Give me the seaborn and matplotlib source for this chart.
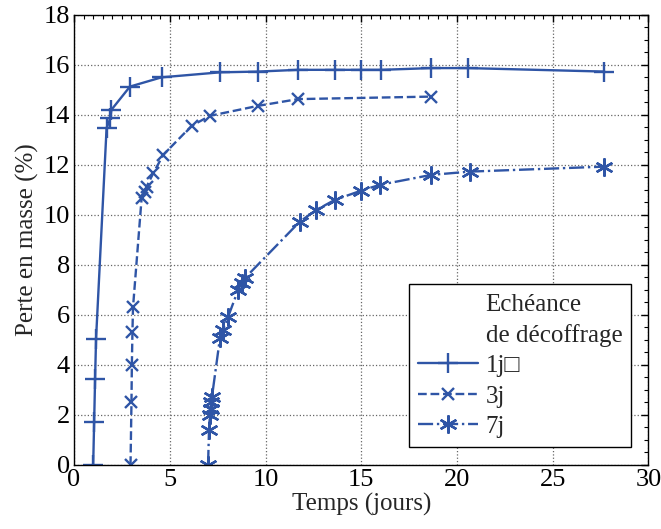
import matplotlib
matplotlib.use("Agg")
import numpy as np
import pandas as pd
import seaborn as sns
import matplotlib.pyplot as plt
from matplotlib.lines import Line2D
from matplotlib.ticker import MultipleLocator

# données
t_1j = [1.0, 1.05, 1.1, 1.15, 1.7, 1.9, 1.95, 2.92, 4.57, 7.62, 9.61, 11.7,
        13.62, 15.0, 16.05, 18.66, 20.57, 27.7]
p_1j = [0.0, 1.7, 3.45, 5.05, 13.47, 13.87, 14.2, 15.13, 15.5, 15.7, 15.73,
        15.8, 15.8, 15.8, 15.8, 15.87, 15.87, 15.73]

t_3j = [2.95, 3.0, 3.02, 3.05, 3.08, 3.53, 3.7, 3.79, 4.14, 4.66, 6.14, 7.09,
        9.61, 11.7, 18.66]
p_3j = [0.0, 2.5, 4.0, 5.3, 6.3, 10.67, 10.9, 11.13, 11.67, 12.4, 13.56,
        13.96, 14.36, 14.63, 14.73]

t_7j = [7.0, 7.05, 7.1, 7.13, 7.16, 7.2, 7.62, 7.79, 8.05, 8.57, 8.75, 8.92,
        11.79, 12.66, 13.62, 15.0, 15.96, 18.66, 20.66, 27.7]
p_7j = [0.0, 1.4, 2.0, 2.25, 2.5, 2.7, 5.07, 5.4, 5.93, 7.0, 7.27, 7.47,
        9.73, 10.2, 10.6, 10.97, 11.2, 11.6, 11.73, 11.93]

labels = ["1j\u25a1", "3j", "7j"]

sns.set_style("white")
plt.rcParams['font.family'] = ['Liberation Serif', 'DejaVu Sans']

blue = '#2F55A6'
fig = plt.figure(figsize=(6.61, 5.29), dpi=100)
ax = fig.add_axes([0.112, 0.121, 0.869, 0.851])

series = [(t_1j, p_1j, '-', '+', 15),
          (t_3j, p_3j, '--', 'x', 9),
          (t_7j, p_7j, '-.', (6, 2, 0), 13)]
for (t, p, ls, mk, ms), lab in zip(series, labels):
    df = pd.DataFrame({'t': t, 'p': p})
    sns.lineplot(data=df, x='t', y='p', ax=ax, sort=False, estimator=None,
                 color=blue, linestyle=ls, marker=mk, markersize=ms,
                 markeredgewidth=1.7, markeredgecolor=blue, markerfacecolor=blue,
                 linewidth=1.7, label=lab)

ax.set_xlim(0, 30)
ax.set_ylim(0, 18)
ax.xaxis.set_major_locator(MultipleLocator(5))
ax.xaxis.set_minor_locator(MultipleLocator(0.5))
ax.yaxis.set_major_locator(MultipleLocator(2))
ax.yaxis.set_minor_locator(MultipleLocator(0.5))
ax.tick_params(which='both', direction='in', top=True, right=True,
               labelsize=19, colors='black', pad=3)
ax.tick_params(which='major', length=5, width=1)
ax.tick_params(which='minor', length=3, width=0.8)
ax.grid(True, which='major', linestyle=':', color='#666666', linewidth=0.9)
for s in ax.spines.values():
    s.set_color('black')
    s.set_linewidth(1)

ax.set_xlabel("Temps (jours)", fontsize=18, labelpad=1)
ax.set_ylabel("Perte en masse (%)", fontsize=18, labelpad=3)

handles, labs = ax.get_legend_handles_labels()
blank = Line2D([], [], color='none')
leg = ax.legend([blank, blank] + handles,
                ["Echéance", "de décoffrage"] + labs,
                loc='lower right', bbox_to_anchor=(0.970, 0.04),
                borderaxespad=0,
                fontsize=18, frameon=True, fancybox=False, edgecolor='black',
                framealpha=1, handlelength=2.4, handletextpad=0.3,
                labelspacing=0.32, borderpad=0.35)
leg.get_frame().set_linewidth(1)

fig.savefig("out.png", dpi=100)
